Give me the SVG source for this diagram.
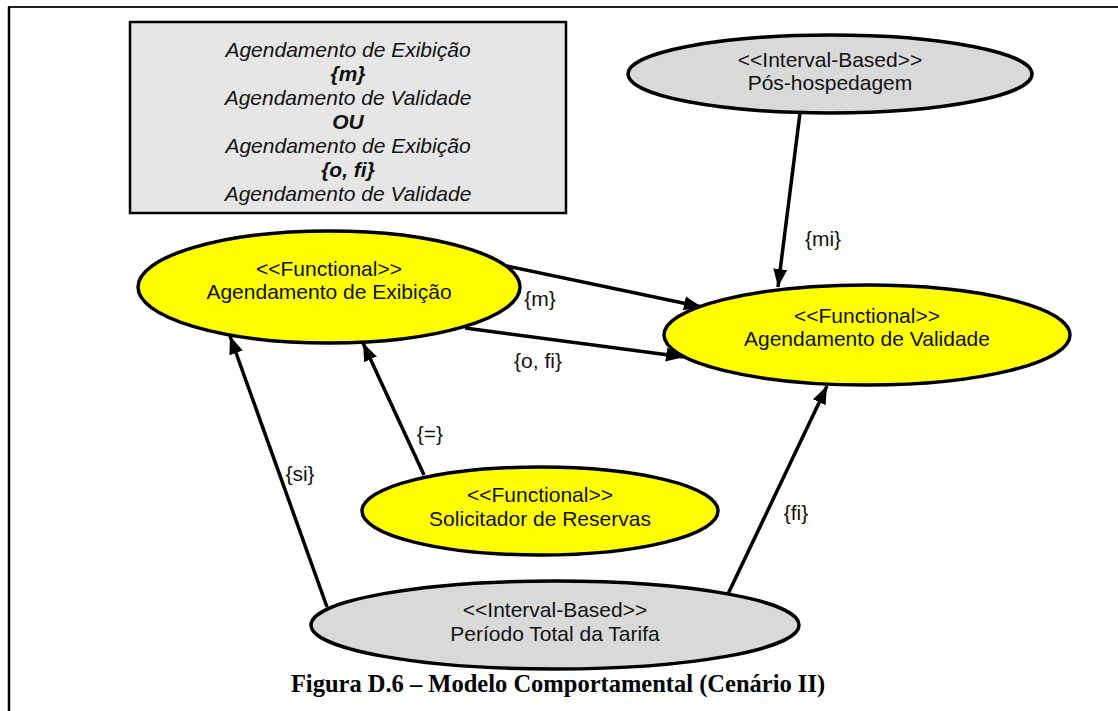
<svg xmlns="http://www.w3.org/2000/svg" width="1118" height="711" viewBox="0 0 1118 711">
<style>
.frame{stroke:#222;stroke-width:2;fill:none}
.note{fill:#e6e6e6;stroke:#000;stroke-width:2.5}
.nt{font-family:"Liberation Sans",Arial,sans-serif;font-size:21px;font-style:italic;fill:#111;text-anchor:middle}
.nb{font-weight:bold}
.func{fill:#ffff00;stroke:#000;stroke-width:3.5}
.intv{fill:#d9d9d9;stroke:#000;stroke-width:3.5}
.lbl{font-family:"Liberation Sans",Arial,sans-serif;font-size:21px;fill:#111;text-anchor:middle}
.edge{stroke:#000;stroke-width:3.5;fill:none;marker-end:url(#arr)}
.cap{font-family:"Liberation Serif","Times New Roman",serif;font-size:24.5px;font-weight:bold;fill:#000;text-anchor:middle}
</style>
<defs>
<marker id="arr" markerUnits="userSpaceOnUse" markerWidth="20" markerHeight="16" refX="18" refY="7" orient="auto" viewBox="0 0 20 14">
<path d="M0,0 L18,7 L0,14 Z" fill="#000"/>
</marker>
</defs>
<rect width="1118" height="711" fill="#fff"/>
<g id="frame">
<line class="frame" x1="8" y1="7" x2="1118" y2="7"/>
<line class="frame" x1="9" y1="7" x2="9" y2="711" style="stroke:#000;stroke-width:2.5"/>
</g>
<g id="note">
<rect class="note" x="130" y="22" width="436" height="191"/>
<text class="nt" x="348" y="57">Agendamento de Exibição</text>
<text class="nt nb" x="348" y="81">{m}</text>
<text class="nt" x="348" y="105">Agendamento de Validade</text>
<text class="nt nb" x="348" y="129">OU</text>
<text class="nt" x="348" y="153">Agendamento de Exibição</text>
<text class="nt nb" x="348" y="177">{o, fi}</text>
<text class="nt" x="348" y="201">Agendamento de Validade</text>
</g>
<g id="connectors">
<line class="edge" x1="507" y1="266" x2="702" y2="307"/>
<line class="edge" x1="465" y1="328" x2="684" y2="357"/>
<line class="edge" x1="800" y1="113" x2="778" y2="287"/>
<line class="edge" x1="424" y1="475" x2="363" y2="343"/>
<line class="edge" x1="327" y1="607" x2="230" y2="336"/>
<line class="edge" x1="728" y1="594" x2="827" y2="386"/>
<text class="lbl" x="540" y="306">{m}</text>
<text class="lbl" x="538" y="368">{o, fi}</text>
<text class="lbl" x="823" y="246">{mi}</text>
<text class="lbl" x="430" y="441">{=}</text>
<text class="lbl" x="300" y="481">{si}</text>
<text class="lbl" x="796" y="520">{fi}</text>
</g>
<g id="pos-hospedagem">
<ellipse class="intv" cx="830" cy="74" rx="202" ry="39"/>
<text class="lbl" x="830" y="67">&lt;&lt;Interval-Based&gt;&gt;</text>
<text class="lbl" x="830" y="90">Pós-hospedagem</text>
</g>
<g id="agendamento-exibicao">
<ellipse class="func" cx="329" cy="287" rx="191" ry="56"/>
<text class="lbl" x="329" y="276">&lt;&lt;Functional&gt;&gt;</text>
<text class="lbl" x="329" y="299">Agendamento de Exibição</text>
</g>
<g id="agendamento-validade">
<ellipse class="func" cx="867" cy="335" rx="203" ry="50"/>
<text class="lbl" x="867" y="323">&lt;&lt;Functional&gt;&gt;</text>
<text class="lbl" x="867" y="346">Agendamento de Validade</text>
</g>
<g id="solicitador-reservas">
<ellipse class="func" cx="540" cy="511" rx="178" ry="44"/>
<text class="lbl" x="540" y="502">&lt;&lt;Functional&gt;&gt;</text>
<text class="lbl" x="540" y="526">Solicitador de Reservas</text>
</g>
<g id="periodo-total">
<ellipse class="intv" cx="555" cy="625" rx="244" ry="44"/>
<text class="lbl" x="555" y="617">&lt;&lt;Interval-Based&gt;&gt;</text>
<text class="lbl" x="555" y="641">Período Total da Tarifa</text>
</g>
<text class="cap" x="558" y="692">Figura D.6 – Modelo Comportamental (Cenário II)</text>
</svg>
